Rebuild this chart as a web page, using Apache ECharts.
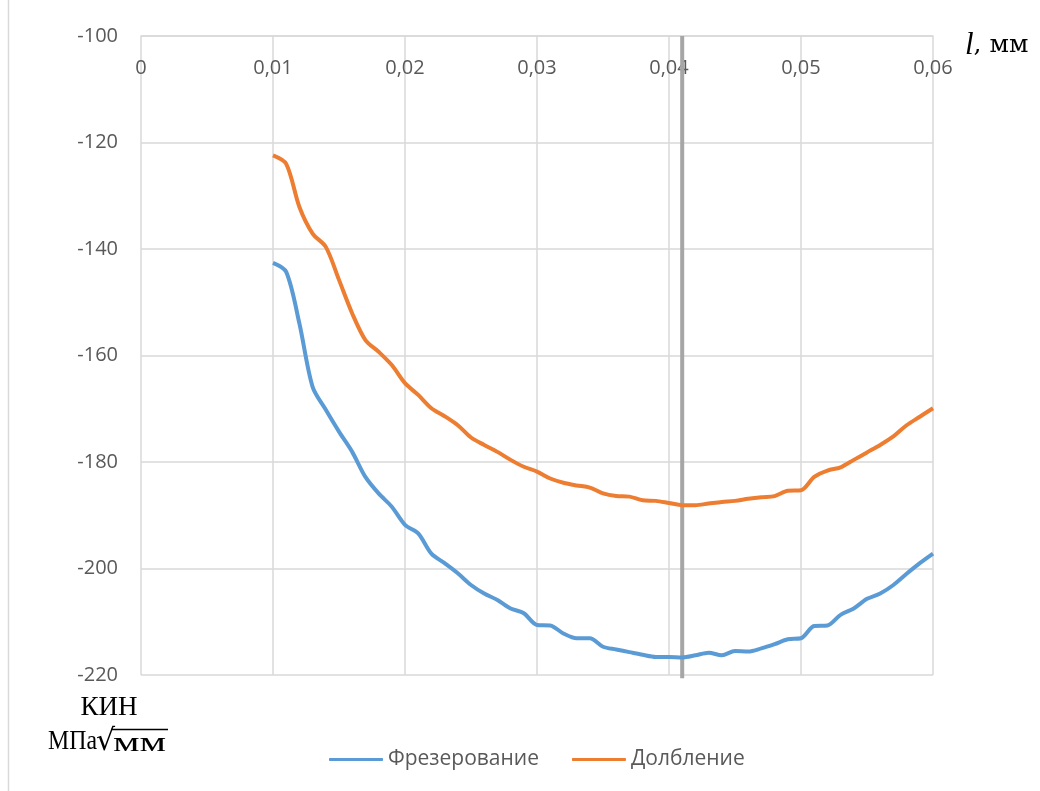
<!DOCTYPE html>
<html>
<head>
<meta charset="utf-8">
<script src="https://cdn.jsdelivr.net/npm/echarts@6/dist/echarts.min.js"></script>
<style>
  html, body { margin: 0; padding: 0; background: #ffffff; }
  #chart { width: 1040px; height: 791px; }
</style>
</head>
<body>
<div id="chart"></div>
<script>
// Depth l, mm
const depthValues = [
  0.010, 0.011, 0.012, 0.013, 0.014, 0.015, 0.016, 0.017, 0.018, 0.019,
  0.020, 0.021, 0.022, 0.023, 0.024, 0.025, 0.026, 0.027, 0.028, 0.029,
  0.030, 0.031, 0.032, 0.033, 0.034, 0.035, 0.036, 0.037, 0.038, 0.039,
  0.040, 0.041, 0.042, 0.043, 0.044, 0.045, 0.046, 0.047, 0.048, 0.049,
  0.050, 0.051, 0.052, 0.053, 0.054, 0.055, 0.056, 0.057, 0.058, 0.059,
  0.060
];
// Фрезерование (milling)
const millingValues = [
  -142.6, -144.3, -154.0, -165.9, -170.2, -174.3, -178.1, -182.8, -185.9, -188.4,
  -191.8, -193.4, -197.2, -199.0, -200.9, -203.1, -204.7, -205.9, -207.5, -208.4,
  -210.6, -210.7, -212.2, -213.1, -213.1, -214.7, -215.2, -215.7, -216.2, -216.6,
  -216.6, -216.7, -216.3, -215.8, -216.3, -215.5, -215.6, -215.0, -214.2, -213.3,
  -213.1, -210.8, -210.7, -208.7, -207.5, -205.7, -204.7, -203.1, -201.0, -199.0,
  -197.2
];
// Долбление (slotting)
const slottingValues = [
  -122.4, -124.0, -132.1, -137.1, -139.6, -145.8, -152.1, -157.1, -159.3, -161.8,
  -165.2, -167.4, -169.9, -171.4, -173.1, -175.4, -176.8, -178.1, -179.6, -180.9,
  -181.8, -183.1, -183.9, -184.4, -184.8, -185.9, -186.4, -186.5, -187.2, -187.3,
  -187.7, -188.1, -188.1, -187.8, -187.5, -187.3, -186.9, -186.6, -186.4, -185.4,
  -185.3, -182.8, -181.6, -181.0, -179.6, -178.2, -176.8, -175.2, -173.1, -171.5,
  -169.9
];
const seriesNames = ['Фрезерование', 'Долбление'];
// vertical reference line at l = 0.041 mm, spanning the value range
const markerDepth = [0.041, 0.041];
const markerRange = [-220.6, -100];

const chart = echarts.init(document.getElementById('chart'), null, { renderer: 'canvas' });
const pair = (xs, ys) => xs.map((x, i) => [x, ys[i]]);
const labelFont = '"Open Sans", "Noto Sans", sans-serif';
const serifFont = '"Liberation Serif", "DejaVu Serif", serif';

const option = {
  animation: false,
  backgroundColor: '#ffffff',
  grid: { left: 141, right: 107, top: 36, bottom: 116, containLabel: false },
  xAxis: {
    type: 'value',
    position: 'top',
    min: 0, max: 0.06, interval: 0.01,
    axisLine: { show: true, onZero: false, lineStyle: { color: '#D9D9D9', width: 1.5 } },
    axisTick: { show: false },
    splitLine: { show: true, lineStyle: { color: '#D9D9D9', width: 1.5 } },
    axisLabel: {
      inside: true, margin: 22, color: '#595959', fontSize: 20, fontFamily: labelFont,
      formatter: v => v === 0 ? '0' : v.toFixed(2).replace('.', ',')
    }
  },
  yAxis: {
    type: 'value',
    min: -220, max: -100, interval: 20,
    axisLine: { show: false },
    axisTick: { show: false },
    splitLine: { show: true, lineStyle: { color: '#D9D9D9', width: 1.5 } },
    axisLabel: { margin: 23, color: '#595959', fontSize: 20, fontFamily: labelFont }
  },
  legend: {
    bottom: 16, left: 324,
    itemWidth: 54, itemHeight: 3, itemGap: 33,
    icon: 'roundRect',
    textStyle: { color: '#595959', fontSize: 21, fontFamily: labelFont },
    data: seriesNames
  },
  series: [
    {
      name: 'marker', type: 'line', data: pair(markerDepth, markerRange),
      showSymbol: false, symbol: 'none', silent: true, clip: false,
      lineStyle: { color: '#A6A6A6', width: 4 }, emphasis: { disabled: true }, z: 1
    },
    {
      name: seriesNames[0], type: 'line', data: pair(depthValues, millingValues),
      smooth: 0.3, showSymbol: false, symbol: 'none',
      lineStyle: { color: '#5B9BD5', width: 4 }, itemStyle: { color: '#5B9BD5' },
      emphasis: { disabled: true }, z: 3
    },
    {
      name: seriesNames[1], type: 'line', data: pair(depthValues, slottingValues),
      smooth: 0.3, showSymbol: false, symbol: 'none',
      lineStyle: { color: '#ED7D31', width: 4 }, itemStyle: { color: '#ED7D31' },
      emphasis: { disabled: true }, z: 3
    }
  ],
  graphic: [
    { type: 'line', shape: { x1: 8.5, y1: 0, x2: 8.5, y2: 791 }, style: { stroke: '#D9D9D9', lineWidth: 1.5 } },
    {
      type: 'text', left: 965, top: 30,
      style: {
        text: '{i|l}{n|, мм}',
        rich: {
          i: { fontFamily: serifFont, fontStyle: 'italic', fontSize: 31, fill: '#000' },
          n: { fontFamily: '"DejaVu Serif", serif', fontSize: 25, fill: '#000' }
        }
      }
    },
    { type: 'text', x: 109, y: 708, style: { text: 'КИН', font: '27px ' + serifFont, fill: '#000', align: 'center', verticalAlign: 'middle' } },
    { type: 'text', x: 97, y: 742, scaleX: 0.85, originX: 0, originY: 0, style: { text: 'МПа', font: '28px ' + serifFont, fill: '#000', align: 'right', verticalAlign: 'middle' } },
    { type: 'text', x: 96, y: 742, style: { text: '√', font: '30px "DejaVu Sans", sans-serif', fill: '#000', align: 'left', verticalAlign: 'middle' } },
    { type: 'text', x: 113, y: 744, scaleX: 1.5, originX: 0, originY: 0, style: { text: 'мм', font: '28px ' + serifFont, fill: '#000', align: 'left', verticalAlign: 'middle' } },
    { type: 'line', shape: { x1: 111, y1: 729.5, x2: 168, y2: 729.5 }, style: { stroke: '#000', lineWidth: 1.3 } }
  ]
};
chart.setOption(option);
</script>
</body>
</html>
